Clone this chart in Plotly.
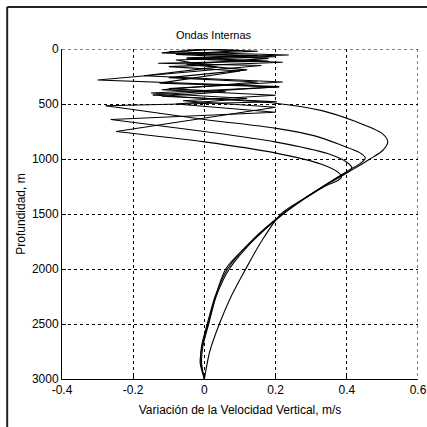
import plotly.graph_objects as go

# ---- data (velocity variation m/s vs depth m) ----
# upper zig-zag parts (linear segments)
a_zig_x = [0.05, -0.10, 0.237, -0.05, 0.18, -0.13, 0.16, -0.30, 0.21, -0.145]
a_zig_y = [0, 25, 55, 80, 110, 129, 150, 282, 342, 418]
b_zig_x = [0.0, 0.15, -0.05, 0.20, -0.08, 0.036, -0.17, 0.22, -0.10, 0.06, -0.12, 0.204, -0.277]
b_zig_y = [0, 20, 45, 70, 100, 165, 243, 300, 360, 388, 430, 479, 516]
c_zig_x = [0.02, -0.12, 0.15, -0.05, 0.22, -0.10, 0.10, -0.126, 0.21, -0.15, 0.12, -0.08, 0.20, -0.263]
c_zig_y = [0, 35, 60, 90, 120, 160, 200, 310, 345, 400, 450, 500, 575, 641]
d_zig_x = [-0.05, 0.10, -0.08, 0.18, -0.05, 0.12, -0.10, 0.15, -0.12, 0.20, -0.06, 0.20, -0.248]
d_zig_y = [0, 15, 50, 85, 140, 190, 260, 300, 370, 420, 470, 530, 750]

# smooth lower parts (from last left tip, through the nose, down to 3000 m)
a_low_x = [-0.145, 0.03, 0.199, 0.33, 0.423, 0.498, 0.515, 0.50, 0.465, 0.42, 0.35, 0.28, 0.21, 0.14, 0.065, 0.03, 0.008, -0.008, -0.01, 0.0]
a_low_y = [418, 455, 493, 560, 657, 765, 840, 925, 1000, 1090, 1220, 1360, 1525, 1720, 2000, 2250, 2500, 2700, 2850, 3000]
b_low_x = [-0.277, 0.0, 0.198, 0.31, 0.385, 0.435, 0.452, 0.44, 0.41, 0.35, 0.28, 0.21, 0.14, 0.07, 0.033, 0.012, -0.004, -0.008, 0.0]
b_low_y = [516, 641, 719, 790, 875, 940, 990, 1035, 1095, 1215, 1360, 1525, 1730, 2000, 2250, 2500, 2700, 2850, 3000]
c_low_x = [-0.263, 0.0, 0.198, 0.348, 0.40, 0.414, 0.405, 0.37, 0.29, 0.215, 0.16, 0.116, 0.075, 0.042, 0.015, 0.0]
c_low_y = [641, 750, 844, 953, 1030, 1080, 1115, 1175, 1340, 1500, 1750, 2000, 2250, 2500, 2750, 3000]
d_low_x = [-0.248, 0.0, 0.198, 0.329, 0.375, 0.385, 0.375, 0.34, 0.28, 0.21, 0.14, 0.06, 0.01, -0.006, -0.012, 0.0]
d_low_y = [750, 844, 944, 1047, 1120, 1165, 1195, 1245, 1365, 1530, 1730, 2000, 2500, 2700, 2850, 3000]

x_ticks = [-0.4, -0.2, 0, 0.2, 0.4, 0.6]
x_tick_labels = ["-0.4", "-0.2", "0", "0.2", "0.4", "0.6"]
y_ticks = [0, 500, 1000, 1500, 2000, 2500, 3000]
y_tick_labels = ["0", "500", "1000", "1500", "2000", "2500", "3000"]

FONT = "Liberation Sans, Arial, sans-serif"
line = dict(color="black", width=1.1)

fig = go.Figure()
for zx, zy, lx, ly in [(a_zig_x, a_zig_y, a_low_x, a_low_y),
                       (b_zig_x, b_zig_y, b_low_x, b_low_y),
                       (c_zig_x, c_zig_y, c_low_x, c_low_y),
                       (d_zig_x, d_zig_y, d_low_x, d_low_y)]:
    fig.add_trace(go.Scatter(x=zx, y=zy, mode="lines", line=line, showlegend=False))
    fig.add_trace(go.Scatter(x=lx, y=ly, mode="lines",
                             line=dict(color="black", width=1.1, shape="spline", smoothing=0.8),
                             showlegend=False))

grid = dict(showgrid=True, gridcolor="black", gridwidth=1, griddash="3px,3px")
fig.update_xaxes(range=[-0.4, 0.6], tickvals=x_ticks, ticktext=x_tick_labels,
                 ticks="inside", ticklen=4, tickcolor="black", showline=True,
                 linecolor="black", linewidth=1, zeroline=False, automargin=False,
                 ticklabeloverflow="allow",
                 tickfont=dict(family=FONT, size=12, color="black"),
                 title=dict(text="Variación de la Velocidad Vertical, m/s",
                            font=dict(family=FONT, size=12, color="black"), standoff=9),
                 **grid)
fig.update_yaxes(range=[3000, 0], tickvals=y_ticks, ticktext=y_tick_labels,
                 ticks="inside", ticklen=4, tickcolor="black", showline=True,
                 linecolor="black", linewidth=1, zeroline=False, automargin=False,
                 tickfont=dict(family=FONT, size=12, color="black"),
                 title=dict(text="Profundidad, m",
                            font=dict(family=FONT, size=12, color="black"), standoff=3),
                 **grid)

# dashed top and right box edges
fig.add_shape(type="line", xref="x", yref="y", x0=-0.4, x1=0.6, y0=0, y1=0,
              line=dict(color="black", width=1, dash="3px,3px"))
fig.add_shape(type="line", xref="x", yref="y", x0=0.6, x1=0.6, y0=0, y1=3000,
              line=dict(color="black", width=1, dash="3px,3px"))
# outer frame (top and left)
fig.add_shape(type="line", xref="paper", yref="paper", x0=-0.154, x1=1.1, y0=1.127, y1=1.127,
              line=dict(color="#222", width=2))
fig.add_shape(type="line", xref="paper", yref="paper", x0=-0.154, x1=-0.154, y0=-0.2, y1=1.127,
              line=dict(color="#222", width=2))

fig.update_layout(
    width=427, height=427,
    margin=dict(l=62, r=9, t=49, b=48, autoexpand=False),
    paper_bgcolor="white", plot_bgcolor="white",
    title=dict(text="Ondas Internas", x=0.5, xanchor="center", y=1 - 35/427, yanchor="middle",
               font=dict(family=FONT, size=11, color="black")),
)
fig.write_html(
    "out.html",
    config={"responsive": False, "displayModeBar": False},
    post_script=("document.body.style.margin='0';document.body.style.overflow='hidden';"
                 "var gd=document.getElementById('{plot_id}');"
                 "Plotly.relayout(gd,{width:427,height:427});"),
)
